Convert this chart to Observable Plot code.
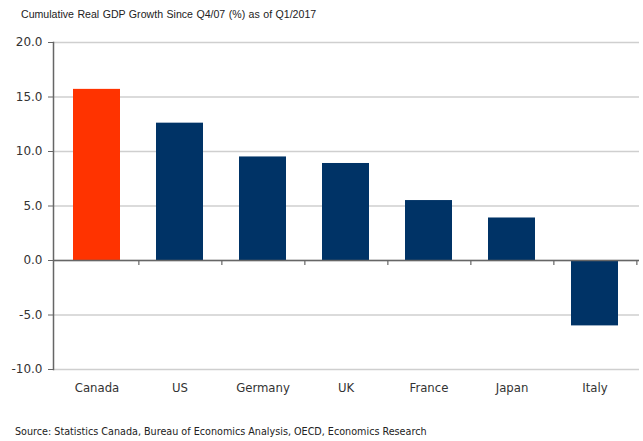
<!DOCTYPE html>
<html><head><meta charset="utf-8">
<script src="https://cdn.jsdelivr.net/npm/d3@7"></script>
<script src="https://cdn.jsdelivr.net/npm/@observablehq/plot@0.6"></script>
<style>
body{margin:0;background:#fff;width:643px;height:441px;overflow:hidden}
#title{height:28px;line-height:28px;padding-left:21px;font-family:"Liberation Sans",Arial,sans-serif;font-size:10.6px;color:#222;word-spacing:0.5px;white-space:nowrap}
#source{margin-top:16px;line-height:16px;padding-left:15px;font-family:"DejaVu Sans Condensed","Liberation Sans Narrow",sans-serif;font-size:10.7px;color:#222;white-space:nowrap}
svg{display:block}
</style></head><body>
<div id="title">Cumulative Real GDP Growth Since Q4/07 (%) as of Q1/2017</div>
<div id="chart"></div>
<div id="source">Source: Statistics Canada, Bureau of Economics Analysis, OECD, Economics Research</div>
<script>
const countries = ["Canada","US","Germany","UK","France","Japan","Italy"];
const growth = [15.7, 12.6, 9.5, 8.9, 5.5, 3.9, -6.0];
const highlight = ["Canada"];
const yTicks = [-10,-5,0,5,10,15,20];

const data = countries.map((c,i)=>({country:c, value:growth[i]}));
const W = 643, mL = 53, mR = 4;
const step = (W - mL - mR) / countries.length;

const plot = Plot.plot({
  width: W, height: 380,
  marginLeft: mL, marginRight: mR, marginTop: 14, marginBottom: 39,
  style: {fontFamily: "DejaVu Sans, sans-serif", fontSize: "12px", color: "#333", background: "#fff"},
  x: {domain: countries, paddingInner: 0.43, paddingOuter: 0.215, label: null},
  y: {domain: [-10, 20], label: null},
  marks: [
    Plot.gridY(yTicks, {stroke: "#cfcfcf", strokeOpacity: 1, strokeWidth: 1.5}),
    Plot.barY(data, {x: "country", y: "value", fill: d => highlight.includes(d.country) ? "#FF3300" : "#003366"}),
    Plot.ruleY([0], {stroke: "#666", strokeWidth: 1.5}),
    Plot.ruleX(countries, {x: d => d, dx: step/2, y1: 0, y2: -0.45, stroke: "#666", strokeWidth: 1.2}),
    Plot.frame({anchor: "left", stroke: "#666", strokeWidth: 1.5}),
    Plot.axisY(yTicks, {tickSize: 5, tickPadding: 6, tickFormat: d => d.toFixed(1), stroke: "#666", fontSize: 12, fill: "#333", label: null}),
    Plot.axisX({tickSize: 0, tickPadding: 13, fontSize: 13, fill: "#333", fontFamily: "DejaVu Sans Condensed, Liberation Sans Narrow, sans-serif", label: null})
  ]
});
document.getElementById("chart").appendChild(plot);
</script>
</body></html>
